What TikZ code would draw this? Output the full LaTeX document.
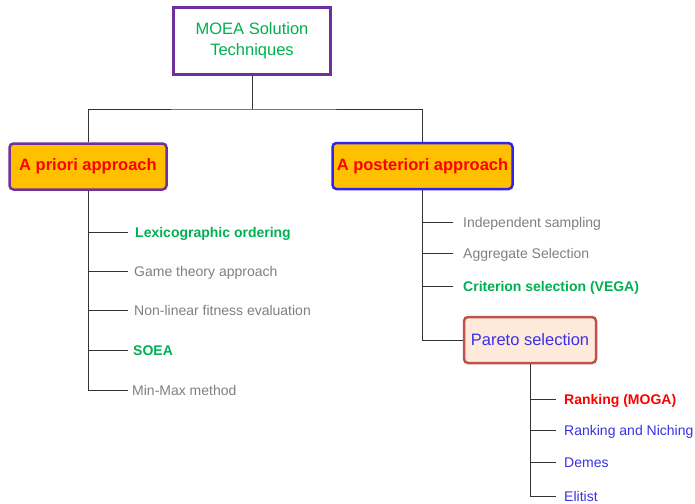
\documentclass[tikz,border=0pt]{standalone}
\usepackage{fontspec}
\setmainfont{Liberation Sans}
\definecolor{mgreen}{HTML}{00B050}
\definecolor{mgray}{HTML}{7F7F7F}
\definecolor{mred}{HTML}{FF0000}
\definecolor{mblue}{HTML}{3A30E4}
\definecolor{mpurple}{HTML}{7030A0}
\definecolor{mborderblue}{HTML}{3322EE}
\definecolor{myellow}{HTML}{FFC000}
\definecolor{mpeach}{HTML}{FDEADA}
\definecolor{mbrick}{HTML}{C0504D}
\definecolor{mline}{HTML}{333333}
\tikzset{
  rootbox/.style={draw=mpurple, line width=3pt, fill=white, minimum width=157pt,
    minimum height=67pt, align=center, text=mgreen,
    font=\fontsize{16.5}{21}\selectfont},
  approachbox/.style={rounded corners=4pt, line width=2.5pt, fill=myellow,
    text=mred, font=\fontsize{16.5}{20}\selectfont\bfseries, minimum height=46pt,
    inner sep=0pt},
  paretobox/.style={rounded corners=4pt, line width=2.5pt, draw=mbrick, fill=mpeach,
    text=mblue, font=\fontsize{16.5}{20}\selectfont, minimum width=132pt,
    minimum height=46pt, inner sep=0pt},
  leaf/.style={anchor=west, inner ysep=0pt, text height=10pt, text depth=0pt,
    font=\fontsize{14}{16}\selectfont},
  leafgray/.style={leaf, text=mgray},
  leafgreen/.style={leaf, text=mgreen, font=\fontsize{14}{16}\selectfont\bfseries},
  leafred/.style={leaf, text=mred, font=\fontsize{14}{16}\selectfont\bfseries},
  leafblue/.style={leaf, text=mblue},
  link/.style={draw=mline, line width=0.9pt},
}
\begin{document}
\begin{tikzpicture}[x=1pt, y=-1pt]
\useasboundingbox (0,0) rectangle (695,503);

% root and the two approaches
\node[rootbox] (root) at (252,41) {MOEA Solution\\Techniques};
\node[approachbox, draw=mpurple, minimum width=157pt] (apriori) at (88,166.5) {A priori approach};
\node[approachbox, draw=mborderblue, minimum width=180pt] (apost) at (422.5,166) {A posteriori approach};
\coordinate (split) at (252,109);
\draw[link] (root.south) -- (split);
\draw[link] (apriori.north) |- (split) -| (apost.north);

% a priori techniques
\node[leafgreen, inner xsep=7pt] (lex) at (128,232) {Lexicographic ordering};
\node[leafgray, inner xsep=6pt] (game) at (128,271) {Game theory approach};
\node[leafgray, inner xsep=6pt] (nonlin) at (128,310) {Non-linear fitness evaluation};
\node[leafgreen, inner xsep=5pt] (soea) at (128,350) {SOEA};
\node[leafgray, inner xsep=4pt] (minmax) at (128,390) {Min-Max method};
\foreach \n in {lex,game,nonlin,soea,minmax}
  \draw[link] (apriori.south) |- (\n.west);

% a posteriori techniques
\node[leafgray, inner xsep=10pt] (indep) at (453,222) {Independent sampling};
\node[leafgray, inner xsep=10pt] (aggr) at (453,253) {Aggregate Selection};
\node[leafgreen, inner xsep=10pt] (vega) at (453,286) {Criterion selection (VEGA)};
\node[paretobox] (pareto) at (530,340) {Pareto selection};
\foreach \n in {indep,aggr,vega,pareto}
  \draw[link] (apost.south) |- (\n.west);

% pareto based techniques
\node[leafred, inner xsep=8pt] (moga) at (556,399) {Ranking (MOGA)};
\node[leafblue, inner xsep=8pt] (niche) at (556,430) {Ranking and Niching};
\node[leafblue, inner xsep=8pt] (demes) at (556,462) {Demes};
\node[leafblue, inner xsep=8pt] (elit) at (556,496) {Elitist};
\foreach \n in {moga,niche,demes,elit}
  \draw[link] (pareto.south) |- (\n.west);
\end{tikzpicture}
\end{document}
